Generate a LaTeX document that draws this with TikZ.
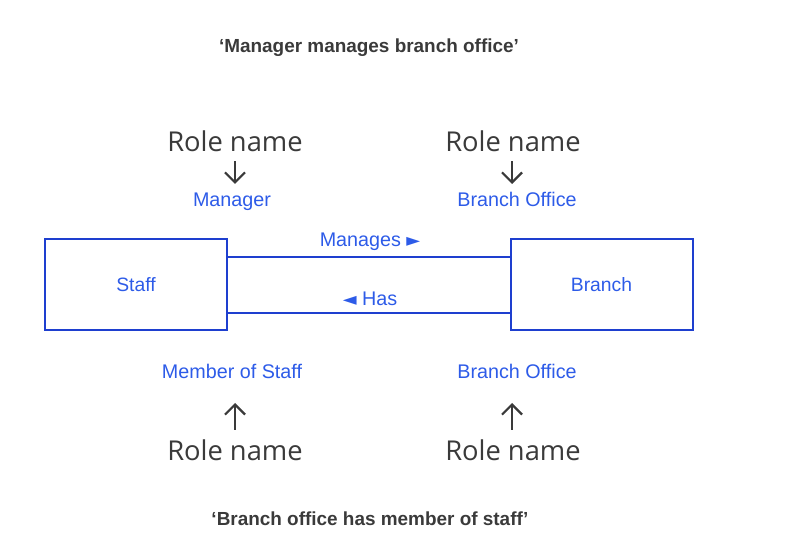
\documentclass[tikz,border=0pt]{standalone}
\usepackage{fontspec}
\setmainfont{Liberation Sans}
\newfontfamily\rolefont{Open Sans}
\newfontfamily\symfont{DejaVu Sans}
\usepackage{tikz}
\usetikzlibrary{arrows.meta}
\definecolor{boxblue}{HTML}{1E3FCF}
\definecolor{txtblue}{HTML}{2D5BE8}
\definecolor{darkgrey}{HTML}{3A3A3A}
\tikzset{>={Straight Barb[length=7.5pt,width=15pt,line width=1.6pt]},
  entity/.style={draw=boxblue,line width=1.5pt,minimum width=136.5pt,minimum height=68pt,inner sep=0pt,
    text=txtblue,font=\fontsize{14.5}{17}\selectfont},
  rolelbl/.style={text=txtblue,font=\fontsize{14.8}{17}\selectfont,inner sep=1pt,text height=1.5ex,text depth=0.3ex},
  rolename/.style={text=darkgrey,font=\rolefont\fontsize{20.5}{24}\selectfont,inner sep=1pt},
  caption/.style={text=darkgrey,font=\bfseries\fontsize{14.2}{17}\selectfont}}

\begin{document}
\begin{tikzpicture}[x=0.75pt,y=-0.75pt]
            \useasboundingbox (0,0) rectangle (786,541);
            % Sentences
            \node[caption] (top) at (369,48) {`Manager manages branch office'};
            \node[caption] (bottom) at (370,519) {`Branch office has member of staff'};

            % Entities
            \node[entity] (staff) at (136,284.5) {Staff};
            \node[entity] (branch) at (601.5,284.5) {Branch};
            \draw [boxblue,line width=1.5pt] (staff.east |- 0,257) -- (branch.west |- 0,257);
            \draw [boxblue,line width=1.5pt] (staff.east |- 0,313) -- (branch.west |- 0,313);
            \node[rolelbl] (manages) at (370,242) {Manages {\symfont\fontsize{13.5}{14}\selectfont ►}};
            \node[rolelbl] (has) at (370,301) {{\symfont\fontsize{13.5}{14}\selectfont ◄} Has};

            % Role names above
            \node[rolename] (rnA) at (235,141) {Role name};
            \node[rolename] (rnB) at (513,141) {Role name};
            \node[rolelbl] (mgr) at (232,202) {Manager};
            \node[rolelbl] (bofA) at (517,202) {Branch Office};
            \draw [->,darkgrey,line width=1.6pt] (rnA.south -| 235,0) ++(0,8) -- (235,184);
            \draw [->,darkgrey,line width=1.6pt] (rnB.south -| 512,0) ++(0,8) -- (512,184);

            % Role names below
            \node[rolelbl] (member) at (232,374) {Member of Staff};
            \node[rolelbl] (bofB) at (517,374) {Branch Office};
            \node[rolename] (rnC) at (235,450) {Role name};
            \node[rolename] (rnD) at (513,450) {Role name};
            \draw [->,darkgrey,line width=1.6pt] (rnC.north -| 235,0) ++(0,-8) -- (235,403);
            \draw [->,darkgrey,line width=1.6pt] (rnD.north -| 512,0) ++(0,-8) -- (512,403);
        \end{tikzpicture}
\end{document}
